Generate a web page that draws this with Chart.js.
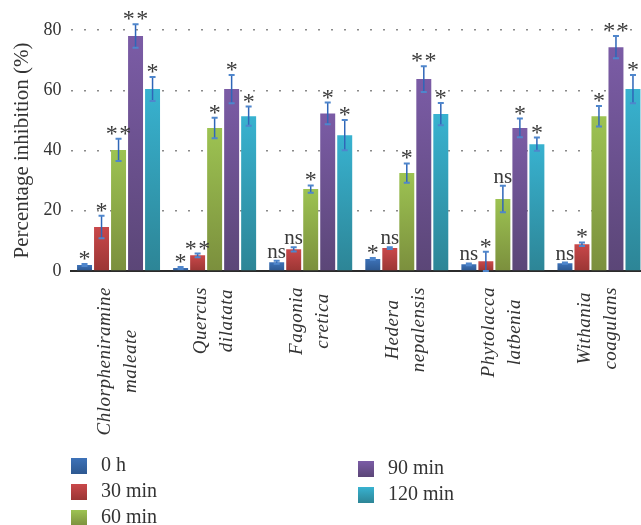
<!DOCTYPE html>
<html>
<head>
<meta charset="utf-8">
<script src="https://cdn.jsdelivr.net/npm/chart.js@4.4.1/dist/chart.umd.min.js"></script>
<style>
html, body { margin: 0; padding: 0; background: #fff; overflow: hidden; }
#contenedor { position: relative; width: 647px; height: 525px; }
.item-leyenda { position: absolute; font: 20px 'Liberation Serif', serif; color: #333; line-height: 16px; white-space: nowrap; }
.cuadro-leyenda { position: absolute; width: 16px; height: 16px; }
</style>
</head>
<body>
<div id="contenedor">
    <canvas id="grafica"></canvas>
    <div id="leyenda"></div>
</div>
<script>
//Datos del grafico
const categorias = [
    ['Chlorpheniramine', 'maleate'],
    ['Quercus', 'dilatata'],
    ['Fagonia', 'cretica'],
    ['Hedera', 'nepalensis'],
    ['Phytolacca', 'latbenia'],
    ['Withania', 'coagulans']
];
const series = ['0 h', '30 min', '60 min', '90 min', '120 min'];

const valores0h = [2.0, 1.0, 2.9, 4.0, 2.2, 2.6];
const valores30 = [14.6, 5.2, 7.2, 7.6, 3.2, 8.9];
const valores60 = [40.2, 47.5, 27.2, 32.5, 23.9, 51.4];
const valores90 = [78.0, 60.4, 52.3, 63.7, 47.5, 74.3];
const valores120 = [60.4, 51.4, 45.1, 52.1, 42.1, 60.4];

const error0h = [0.3, 0.3, 0.5, 0.3, 0.3, 0.2];
const error30 = [3.7, 0.6, 0.7, 0.3, 3.2, 0.6];
const error60 = [3.7, 3.4, 1.2, 3.2, 4.4, 3.4];
const error90 = [3.9, 4.7, 3.6, 4.3, 3.1, 3.7];
const error120 = [4.0, 3.2, 5.0, 3.7, 2.2, 4.7];

const sig0h = ['*', '*', 'ns', '*', 'ns', 'ns'];
const sig30 = ['*', '**', 'ns', 'ns', '*', '*'];
const sig60 = ['**', '*', '*', '*', 'ns', '*'];
const sig90 = ['**', '*', '*', '**', '*', '**'];
const sig120 = ['*', '*', '*', '*', '*', '*'];

const marcasY = [0, 20, 40, 60, 80];

const valores = [valores0h, valores30, valores60, valores90, valores120];
const errores = [error0h, error30, error60, error90, error120];
const significancia = [sig0h, sig30, sig60, sig90, sig120];

//Colores (arriba, abajo) de cada serie
const coloresSerie = [
    ['#3d72b8', '#2d5890'],
    ['#c9484a', '#9b3634'],
    ['#9dc352', '#7b8f3d'],
    ['#7b5ca6', '#5b4677'],
    ['#38b2d0', '#2d8596']
];

const fuente = '"Liberation Serif", serif';

//Degradado vertical por barra
function colorBarra(serie) {
    return function(context) {
        const chart = context.chart;
        if (!chart.chartArea) return coloresSerie[serie][0];
        const y = chart.scales.y;
        const arriba = y.getPixelForValue(context.raw);
        const abajo = y.getPixelForValue(0);
        const g = chart.ctx.createLinearGradient(0, arriba, 0, abajo);
        g.addColorStop(0, coloresSerie[serie][0]);
        g.addColorStop(1, coloresSerie[serie][1]);
        return g;
    };
}

//Barras de error y marcas de significancia
const pluginErrores = {
    id: 'errores',
    afterDatasetsDraw(chart) {
        const ctx = chart.ctx;
        const y = chart.scales.y;
        chart.data.datasets.forEach((ds, d) => {
            const meta = chart.getDatasetMeta(d);
            meta.data.forEach((barra, i) => {
                const v = ds.data[i];
                const e = errores[d][i];
                const yTop = y.getPixelForValue(v + e);
                const yBot = y.getPixelForValue(Math.max(0, v - e));
                ctx.save();
                ctx.strokeStyle = '#2f66b8';
                ctx.lineWidth = 1.5;
                ctx.beginPath();
                ctx.moveTo(barra.x, yTop);
                ctx.lineTo(barra.x, yBot);
                ctx.stroke();
                ctx.strokeStyle = '#4f86cc';
                ctx.lineWidth = 2;
                ctx.beginPath();
                ctx.moveTo(barra.x - 3, yTop);
                ctx.lineTo(barra.x + 3, yTop);
                ctx.moveTo(barra.x - 3, yBot);
                ctx.lineTo(barra.x + 3, yBot);
                ctx.stroke();

                const s = significancia[d][i];
                ctx.fillStyle = '#3a3a3a';
                ctx.textAlign = 'center';
                ctx.textBaseline = 'alphabetic';
                if (s === 'ns') {
                    ctx.font = '21px ' + fuente;
                    ctx.fillText(s, barra.x, yTop - 3);
                } else {
                    ctx.font = '24px ' + fuente;
                    ctx.letterSpacing = '1.5px';
                    const m = ctx.measureText(s);
                    ctx.fillText(s, barra.x + 0.75, yTop - 4 - m.actualBoundingBoxDescent);
                }
                ctx.restore();
            });
        });
    }
};

//Etiquetas del eje X (cursiva, giradas, centradas entre lineas)
const pluginEtiquetas = {
    id: 'etiquetasX',
    afterDraw(chart) {
        const ctx = chart.ctx;
        const x = chart.scales.x;
        ctx.save();
        ctx.font = 'italic 19px ' + fuente;
        ctx.letterSpacing = '0.5px';
        ctx.fillStyle = '#333';
        ctx.textAlign = 'center';
        ctx.textBaseline = 'alphabetic';
        categorias.forEach((lineas, i) => {
            const px = x.getPixelForValue(i);
            const ancho = Math.max(...lineas.map(l => ctx.measureText(l).width));
            ctx.save();
            ctx.translate(px, chart.chartArea.bottom + 16);
            ctx.rotate(-Math.PI / 2);
            lineas.forEach((l, j) => ctx.fillText(l, -ancho / 2, -9 + j * 26));
            ctx.restore();
        });
        ctx.restore();
    }
};

function crearGrafica() {
    const ctx = document.getElementById('grafica').getContext('2d');
    new Chart(ctx, {
        type: 'bar',
        data: {
            labels: categorias,
            datasets: series.map((nombre, s) => ({
                label: nombre,
                data: valores[s],
                backgroundColor: colorBarra(s),
                borderWidth: 0,
                categoryPercentage: 0.885,
                barPercentage: 0.88
            }))
        },
        options: {
            responsive: true,
            maintainAspectRatio: false,
            animation: false,
            layout: { padding: { top: 30, bottom: 254, left: 0, right: 0 } },
            plugins: {
                legend: { display: false },
                tooltip: { enabled: false }
            },
            scales: {
                x: {
                    grid: { display: false, drawTicks: false },
                    ticks: { display: false },
                    border: { display: true, color: '#2b2b2b', width: 2 }
                },
                y: {
                    min: 0,
                    max: 80,
                    afterFit(scale) { scale.width = 70.5; },
                    afterBuildTicks(axis) { axis.ticks = marcasY.map(v => ({ value: v })); },
                    ticks: { padding: 9, color: '#333', font: { family: fuente, size: 18 } },
                    grid: {
                        drawTicks: false,
                        lineWidth: 1.5,
                        color: c => c.tick && c.tick.value === 0 ? 'rgba(0,0,0,0)' : '#8a8a8a'
                    },
                    border: { display: false, dash: [2, 11] },
                    title: {
                        display: true,
                        text: 'Percentage inhibition (%)',
                        color: '#333',
                        font: { family: fuente, size: 21 },
                        padding: { top: 10, bottom: 0 }
                    }
                }
            }
        },
        plugins: [pluginErrores, pluginEtiquetas]
    });
}

//Leyenda en dos columnas
function crearLeyenda() {
    const posiciones = [[71, 458], [71, 484], [71, 510], [358, 461], [358, 487]];
    const cont = document.getElementById('leyenda');
    series.forEach((nombre, s) => {
        const cuadro = document.createElement('div');
        cuadro.className = 'cuadro-leyenda';
        cuadro.style.left = posiciones[s][0] + 'px';
        cuadro.style.top = posiciones[s][1] + 'px';
        cuadro.style.background = 'linear-gradient(' + coloresSerie[s][0] + ', ' + coloresSerie[s][1] + ')';
        cont.appendChild(cuadro);
        const texto = document.createElement('div');
        texto.className = 'item-leyenda';
        texto.style.left = (posiciones[s][0] + 30) + 'px';
        texto.style.top = (posiciones[s][1] - 2) + 'px';
        texto.textContent = nombre;
        cont.appendChild(texto);
    });
}

document.addEventListener('DOMContentLoaded', function() {
    crearGrafica();
    crearLeyenda();
});
</script>
</body>
</html>
